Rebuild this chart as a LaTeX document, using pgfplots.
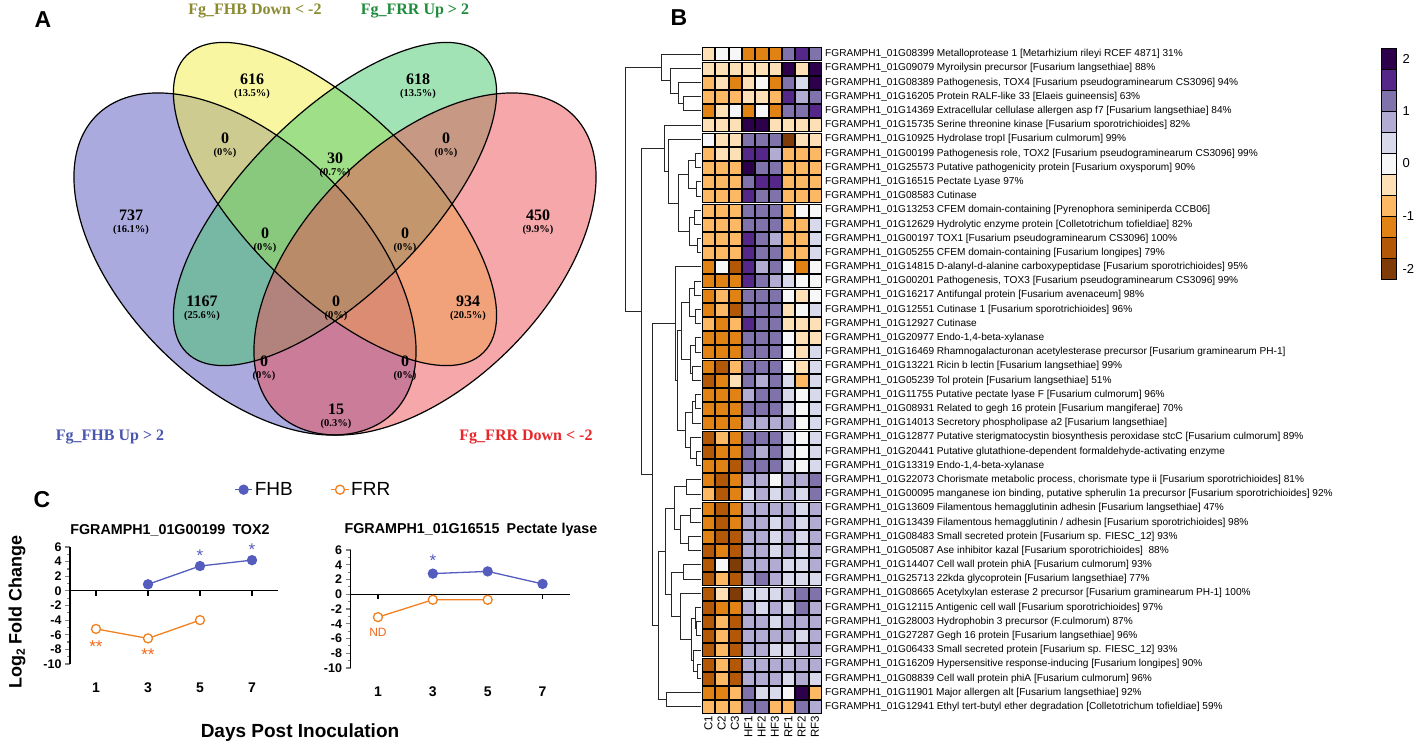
\documentclass[border=0pt]{standalone}
\usepackage{pgfplots}
\pgfplotsset{compat=1.18}
\usepackage{pgfplotstable}
\usepackage{fontspec}
\setmainfont{Liberation Sans}
\newfontfamily\vennfont{Liberation Serif}

\definecolor{vpur}{RGB}{85,85,190}
\definecolor{vyel}{RGB}{241,237,65}
\definecolor{vgrn}{RGB}{70,200,110}
\definecolor{vpnk}{RGB}{235,79,85}
\definecolor{fhb}{RGB}{84,92,190}
\definecolor{frr}{RGB}{240,128,32}
\definecolor{lblolive}{RGB}{138,138,48}
\definecolor{lblgreen}{RGB}{30,140,60}
\definecolor{lblblue}{RGB}{74,85,176}
\definecolor{lblred}{RGB}{232,38,42}

\pgfplotsset{colormap={puor}{rgb255=(127,59,8) rgb255=(179,88,6) rgb255=(224,130,20)
  rgb255=(253,184,99) rgb255=(254,224,182) rgb255=(247,247,247) rgb255=(216,218,235)
  rgb255=(178,171,210) rgb255=(128,115,172) rgb255=(84,39,136) rgb255=(45,0,75)}}
\tikzset{astk/.style={font=\fontsize{17}{17}\selectfont}}

% heat map codes: -5 (dark brown) ... 0 (white) ... 5 (dark purple)
\pgfplotstableread{
r c0 c1 c2 c3 c4 c5 c6 c7 c8
1 -1 0 0 -3 -3 -3 3 4 3
2 -1 -1 -1 -1 -1 -1 5 -1 5
3 -2 -1 -3 -1 0 -3 3 1 5
4 -2 -2 -2 -1 -1 -2 4 2 3
5 -3 -1 0 -3 0 -3 3 3 4
6 -1 -1 -1 5 5 -1 -1 -1 -1
7 0 -1 -1 3 3 3 -5 -1 -1
8 -2 -1 -1 4 4 2 -2 -2 -2
9 -2 -2 -2 5 3 3 -2 -2 -2
10 -2 -2 -2 3 4 4 -2 -2 -2
11 -2 -2 -2 4 3 3 -2 -2 -2
12 -2 -2 -2 3 3 3 -2 0 0
13 -2 -2 -2 3 3 3 -2 -2 1
14 -2 -2 -2 4 3 2 -2 -2 1
15 -2 -2 -2 4 3 3 -2 -2 1
16 -3 0 -4 4 2 3 0 -3 0
17 -3 -3 -3 4 3 2 1 0 0
18 -3 -2 -3 3 3 3 0 -1 0
19 -3 -2 -4 3 3 3 -1 0 1
20 -2 -3 -2 4 3 3 -1 -1 -1
21 -3 -3 -3 3 3 3 0 -1 -1
22 -3 -3 -3 3 3 3 0 -1 1
23 -3 -4 -2 3 3 3 0 -1 1
24 -4 -3 -1 3 2 3 1 -2 1
25 -3 -3 -3 2 3 3 1 0 1
26 -3 -3 -3 3 3 3 1 0 1
27 -3 -3 -3 2 2 2 2 0 1
28 -4 -2 -3 3 3 3 1 0 1
29 -4 -3 -3 3 2 3 1 0 1
30 -3 -3 -4 3 3 3 1 0 1
31 -3 -4 -3 2 2 0 2 2 3
32 -2 -4 -3 1 2 1 2 1 3
33 -3 -4 -3 2 2 2 2 1 2
34 -3 -4 -3 2 2 1 2 1 2
35 -3 -4 -4 2 2 1 2 1 2
36 -4 -3 -4 2 2 1 2 1 2
37 -4 0 -5 2 2 2 1 1 2
38 -4 -2 -4 2 3 2 1 1 1
39 -4 -1 -5 1 1 1 2 3 3
40 -4 -3 -3 2 1 2 1 3 2
41 -4 -2 -4 2 2 1 2 2 2
42 -4 -2 -4 2 2 2 2 1 2
43 -4 -2 -4 2 2 1 1 2 2
44 -4 -2 -4 2 2 2 2 2 2
45 -4 -2 -4 2 2 2 1 2 1
46 -3 -3 -2 3 1 1 0 5 -2
47 -2 -2 -2 3 3 -2 -2 3 2
}\heat

\newcommand{\vn}[4]{\node[align=center, font=\vennfont\bfseries, inner sep=0pt] at (axis cs:#1,#2)
  {{\fontsize{16}{17}\selectfont #3}\\{\fontsize{10.5}{11}\selectfont (#4\%)}};}
% dendrogram bracket: child (x1,y1), join at x, child (x2,y2)
\newcommand{\br}[5]{\addplot[black!85, line width=1pt] coordinates {(#1,#2) (#3,#2) (#3,#5) (#4,#5)};}
\newcommand{\collab}[2]{\node[rotate=90, anchor=east, inner sep=2pt, font=\fontsize{11.5}{12}\selectfont] at (axis cs:#1,47.5) {#2};}

\begin{document}
\begin{tikzpicture}

% ---------------- A: Venn ----------------
\begin{axis}[at={(0pt,0pt)}, anchor=north west, scale only axis,
  width=640pt, height=460pt, xmin=0, xmax=640, ymin=0, ymax=460,
  y dir=reverse, hide axis, clip=false]
  \fill[vpur, fill opacity=0.5, rotate around={-45:(axis cs:245,264)}] (axis cs:245,264) ellipse [x radius=210pt, y radius=120pt];
  \fill[vyel, fill opacity=0.5, rotate around={-45:(axis cs:335,204)}] (axis cs:335,204) ellipse [x radius=210pt, y radius=90pt];
  \fill[vgrn, fill opacity=0.5, rotate around={45:(axis cs:335,204)}] (axis cs:335,204) ellipse [x radius=210pt, y radius=90pt];
  \fill[vpnk, fill opacity=0.5, rotate around={45:(axis cs:425,264)}] (axis cs:425,264) ellipse [x radius=210pt, y radius=120pt];
  \draw[line width=1.2pt, rotate around={-45:(axis cs:245,264)}] (axis cs:245,264) ellipse [x radius=210pt, y radius=120pt];
  \draw[line width=1.2pt, rotate around={-45:(axis cs:335,204)}] (axis cs:335,204) ellipse [x radius=210pt, y radius=90pt];
  \draw[line width=1.2pt, rotate around={45:(axis cs:335,204)}] (axis cs:335,204) ellipse [x radius=210pt, y radius=90pt];
  \draw[line width=1.2pt, rotate around={45:(axis cs:425,264)}] (axis cs:425,264) ellipse [x radius=210pt, y radius=120pt];
  \vn{252}{86}{616}{13.5}
  \vn{418}{86}{618}{13.5}
  \vn{131}{222}{737}{16.1}
  \vn{538}{222}{450}{9.9}
  \vn{225}{145}{0}{0}
  \vn{335}{165}{30}{0.7}
  \vn{446}{145}{0}{0}
  \vn{265}{240}{0}{0}
  \vn{405}{240}{0}{0}
  \vn{202}{308}{1167}{25.6}
  \vn{336}{308}{0}{0}
  \vn{468}{308}{934}{20.5}
  \vn{264}{368}{0}{0}
  \vn{405}{368}{0}{0}
  \vn{336}{416}{15}{0.3}
  \node[lblolive, font=\vennfont\bfseries\fontsize{16}{16}\selectfont] at (axis cs:255,11) {Fg\_FHB Down < -2};
  \node[lblgreen, font=\vennfont\bfseries\fontsize{16}{16}\selectfont] at (axis cs:415,11) {Fg\_FRR Up > 2};
  \node[lblblue, font=\vennfont\bfseries\fontsize{16}{16}\selectfont] at (axis cs:110,437) {Fg\_FHB Up > 2};
  \node[lblred, font=\vennfont\bfseries\fontsize{16}{16}\selectfont] at (axis cs:526,437) {Fg\_FRR Down < -2};
\end{axis}

% ---------------- B: heat map ----------------
\begin{axis}[at={(623.7pt,-47pt)}, anchor=north west, scale only axis,
  width=198pt, height=667pt, xmin=-6.35, xmax=8.5, ymin=0.5, ymax=47.5, y dir=reverse,
  axis line style={draw=none}, xtick=\empty, ytick={1,...,47}, ytick style={draw=none},
  yticklabel pos=right, yticklabel style={font=\fontsize{10.1}{10.5}\selectfont},
  point meta min=-5, point meta max=5, clip=false,
  yticklabels={
  {FGRAMPH1\_01G08399 Metalloprotease 1 [Metarhizium rileyi RCEF 4871] 31\%},
  {FGRAMPH1\_01G09079 Myroilysin precursor [Fusarium langsethiae] 88\%},
  {FGRAMPH1\_01G08389 Pathogenesis, TOX4 [Fusarium pseudograminearum CS3096] 94\%},
  {FGRAMPH1\_01G16205 Protein RALF-like 33 [Elaeis guineensis] 63\%},
  {FGRAMPH1\_01G14369 Extracellular cellulase allergen asp f7 [Fusarium langsethiae] 84\%},
  {FGRAMPH1\_01G15735 Serine threonine kinase [Fusarium sporotrichioides] 82\%},
  {FGRAMPH1\_01G10925 Hydrolase tropI [Fusarium culmorum] 99\%},
  {FGRAMPH1\_01G00199 Pathogenesis role, TOX2 [Fusarium pseudograminearum CS3096] 99\%},
  {FGRAMPH1\_01G25573 Putative pathogenicity protein [Fusarium oxysporum] 90\%},
  {FGRAMPH1\_01G16515 Pectate Lyase 97\%},
  {FGRAMPH1\_01G08583 Cutinase},
  {FGRAMPH1\_01G13253 CFEM domain-containing [Pyrenophora seminiperda CCB06]},
  {FGRAMPH1\_01G12629 Hydrolytic enzyme protein [Colletotrichum tofieldiae] 82\%},
  {FGRAMPH1\_01G00197 TOX1 [Fusarium pseudograminearum CS3096] 100\%},
  {FGRAMPH1\_01G05255 CFEM domain-containing [Fusarium longipes] 79\%},
  {FGRAMPH1\_01G14815 D-alanyl-d-alanine carboxypeptidase [Fusarium sporotrichioides] 95\%},
  {FGRAMPH1\_01G00201 Pathogenesis, TOX3 [Fusarium pseudograminearum CS3096] 99\%},
  {FGRAMPH1\_01G16217 Antifungal protein [Fusarium avenaceum] 98\%},
  {FGRAMPH1\_01G12551 Cutinase 1 [Fusarium sporotrichioides] 96\%},
  {FGRAMPH1\_01G12927 Cutinase},
  {FGRAMPH1\_01G20977 Endo-1,4-beta-xylanase},
  {FGRAMPH1\_01G16469 Rhamnogalacturonan acetylesterase precursor [Fusarium graminearum PH-1]},
  {FGRAMPH1\_01G13221 Ricin b lectin [Fusarium langsethiae] 99\%},
  {FGRAMPH1\_01G05239 Tol protein [Fusarium langsethiae] 51\%},
  {FGRAMPH1\_01G11755 Putative pectate lyase F [Fusarium culmorum] 96\%},
  {FGRAMPH1\_01G08931 Related to gegh 16 protein [Fusarium mangiferae] 70\%},
  {FGRAMPH1\_01G14013 Secretory phospholipase a2 [Fusarium langsethiae]},
  {FGRAMPH1\_01G12877 Putative sterigmatocystin biosynthesis peroxidase stcC [Fusarium culmorum] 89\%},
  {FGRAMPH1\_01G20441 Putative glutathione-dependent formaldehyde-activating enzyme},
  {FGRAMPH1\_01G13319 Endo-1,4-beta-xylanase},
  {FGRAMPH1\_01G22073 Chorismate metabolic process, chorismate type ii [Fusarium sporotrichioides] 81\%},
  {FGRAMPH1\_01G00095 manganese ion binding, putative spherulin 1a precursor [Fusarium sporotrichioides] 92\%},
  {FGRAMPH1\_01G13609 Filamentous hemagglutinin adhesin [Fusarium langsethiae] 47\%},
  {FGRAMPH1\_01G13439 Filamentous hemagglutinin / adhesin [Fusarium sporotrichioides] 98\%},
  {FGRAMPH1\_01G08483 Small secreted protein [Fusarium sp. FIESC\_12] 93\%},
  {FGRAMPH1\_01G05087 Ase inhibitor kazal [Fusarium sporotrichioides] \ 88\%},
  {FGRAMPH1\_01G14407 Cell wall protein phiA [Fusarium culmorum] 93\%},
  {FGRAMPH1\_01G25713 22kda glycoprotein [Fusarium langsethiae] 77\%},
  {FGRAMPH1\_01G08665 Acetylxylan esterase 2 precursor [Fusarium graminearum PH-1] 100\%},
  {FGRAMPH1\_01G12115 Antigenic cell wall [Fusarium sporotrichioides] 97\%},
  {FGRAMPH1\_01G28003 Hydrophobin 3 precursor (F.culmorum) 87\%},
  {FGRAMPH1\_01G27287 Gegh 16 protein [Fusarium langsethiae] 96\%},
  {FGRAMPH1\_01G06433 Small secreted protein [Fusarium sp. FIESC\_12] 93\%},
  {FGRAMPH1\_01G16209 Hypersensitive response-inducing [Fusarium longipes] 90\%},
  {FGRAMPH1\_01G08839 Cell wall protein phiA [Fusarium culmorum] 96\%},
  {FGRAMPH1\_01G11901 Major allergen alt [Fusarium langsethiae] 92\%},
  {FGRAMPH1\_01G12941 Ethyl tert-butyl ether degradation [Colletotrichum tofieldiae] 59\%}
  }]
  \pgfplotsinvokeforeach{0,...,8}{
    \addplot[scatter, only marks, mark=square*, mark size=6.5pt,
      mark options={xscale=0.93, draw=none},
      scatter/use mapped color={fill=mapped color, draw=none},
      point meta=explicit] table[x expr=#1, y=r, meta=c#1] {\heat};
  }
  % dendrogram: cluster A (rows 1-5)
  \br{-0.55}{4}{-1.875}{-0.55}{5}
  \br{-0.55}{3}{-2.25}{-1.875}{4.5}
  \br{-0.55}{2}{-2.875}{-2.25}{3.75}
  \br{-0.55}{1}{-3.5}{-2.875}{2.875}
  % cluster B (rows 6-15)
  \br{-0.55}{8}{-0.95}{-0.55}{9}
  \br{-0.55}{10}{-0.875}{-0.55}{11}
  \br{-0.95}{8.5}{-1.5}{-0.875}{10.5}
  \br{-0.55}{12}{-1.075}{-0.55}{13}
  \br{-0.55}{14}{-0.825}{-0.55}{15}
  \br{-1.075}{12.5}{-1.45}{-0.825}{14.5}
  \br{-1.5}{9.5}{-2.25}{-1.45}{13.5}
  \br{-0.55}{7}{-3.0}{-2.25}{11.5}
  \br{-0.55}{6}{-3.3}{-3.0}{9.25}
  % cluster D1 (rows 16-30)
  \br{-0.55}{17}{-1.075}{-0.55}{18}
  \br{-0.55}{19}{-0.95}{-0.55}{20}
  \br{-1.075}{17.5}{-1.45}{-0.95}{19.5}
  \br{-0.55}{21}{-0.95}{-0.55}{22}
  \br{-0.55}{23}{-1.2}{-0.55}{24}
  \br{-0.95}{21.5}{-1.325}{-1.2}{23.5}
  \br{-1.45}{18.5}{-2.0}{-1.325}{22.5}
  \br{-0.55}{25}{-0.95}{-0.55}{26}
  \br{-0.95}{25.5}{-1.2}{-0.55}{27}
  \br{-0.55}{29}{-0.875}{-0.55}{30}
  \br{-0.55}{28}{-1.325}{-0.875}{29.5}
  \br{-1.2}{26.25}{-1.75}{-1.325}{28.75}
  \br{-2.0}{20.5}{-2.325}{-1.75}{27.5}
  \br{-0.55}{16}{-2.5}{-2.325}{24}
  % cluster D2 (rows 31-45)
  \br{-0.55}{31}{-1.625}{-0.55}{32}
  \br{-0.55}{33}{-1.375}{-0.55}{34}
  \br{-0.55}{35}{-1.5}{-0.55}{36}
  \br{-1.375}{33.5}{-2.125}{-1.5}{35.5}
  \br{-1.625}{31.5}{-2.55}{-2.125}{34.5}
  \br{-0.55}{37}{-1.875}{-0.55}{38}
  \br{-0.55}{41}{-0.875}{-0.55}{42}
  \br{-0.55}{40}{-1.0}{-0.875}{41.5}
  \br{-0.55}{44}{-0.825}{-0.55}{45}
  \br{-0.55}{43}{-1.125}{-0.825}{44.5}
  \br{-1.0}{40.75}{-1.25}{-1.125}{43.75}
  \br{-0.55}{39}{-2.125}{-1.25}{42.25}
  \br{-1.875}{37.5}{-2.75}{-2.125}{40.625}
  \br{-2.55}{33}{-3.2}{-2.75}{39.0625}
  % rows 46-47 and upper joins
  \br{-0.55}{46}{-3.125}{-0.55}{47}
  \br{-3.2}{36.03}{-3.75}{-3.125}{46.5}
  \br{-2.5}{20}{-4.2}{-3.75}{41.27}
  \br{-3.3}{7.625}{-5.0}{-4.2}{30.63}
  \br{-3.5}{1.9375}{-6.25}{-5.0}{19.13}
  % column labels
  \collab{0}{C1}\collab{1}{C2}\collab{2}{C3}
  \collab{3}{HF1}\collab{4}{HF2}\collab{5}{HF3}
  \collab{6}{RF1}\collab{7}{RF2}\collab{8}{RF3}
\end{axis}

% ---------------- colour key ----------------
\begin{axis}[at={(1381pt,-48pt)}, anchor=north west, scale only axis,
  width=15pt, height=231pt, xmin=0, xmax=1, ymin=-5.5, ymax=5.5,
  axis line style={draw=none}, xtick=\empty,
  ytick={-5,-2.5,0,2.5,5}, yticklabels={-2,-1,0,1,2}, yticklabel pos=right,
  ytick style={draw=none}, yticklabel style={font=\fontsize{13}{13}\selectfont, xshift=3pt},
  point meta min=-5, point meta max=5, clip=false]
  \addplot[scatter, only marks, mark=square*, mark size=10.5pt,
    mark options={xscale=0.714, draw=none},
    scatter/use mapped color={fill=mapped color, draw=none},
    point meta=explicit] table[meta=v] {
x y v
0.5 -5 -5
0.5 -4 -4
0.5 -3 -3
0.5 -2 -2
0.5 -1 -1
0.5 0 0
0.5 1 1
0.5 2 2
0.5 3 3
0.5 4 4
0.5 5 5
};
\end{axis}

% ---------------- C: time courses ----------------
\pgfplotsset{tc/.style={scale only axis, xmin=0, xmax=8, ymin=-10, ymax=6,
  axis y line*=left, axis x line*=bottom, x axis line style={draw=none},
  y axis line style={line width=1.2pt},
  xtick={1,3,5,7}, xtick style={draw=none},
  ytick={-10,-8,...,6}, minor ytick={-9,-7,...,5},
  ytick style={line width=1.2pt}, minor tick style={line width=1.2pt},
  tick align=outside, major tick length=5pt, minor tick length=3pt,
  /pgf/number format/assume math mode=true,
  yticklabel style={font=\bfseries\fontsize{12.5}{13}\selectfont},
  xticklabel style={font=\bfseries\fontsize{14}{14}\selectfont, yshift=-10pt},
  clip=false},
  fhbline/.style={fhb, line width=1.3pt, mark=*, mark size=4.5pt},
  frrline/.style={frr, line width=1.3pt, mark=*, mark size=4.5pt, mark options={fill=white, line width=1.3pt}}}

\begin{axis}[tc, at={(70pt,-547pt)}, anchor=north west, width=208pt, height=117pt,
  legend columns=2,
  legend style={at={(axis description cs:1.17,1.49)}, anchor=center, draw=none,
    font=\fontsize{19}{19}\selectfont, /tikz/every even column/.append style={column sep=36pt}}]
  \draw[line width=1.2pt] (axis cs:0,0) -- (axis cs:8,0);
  \draw[line width=1.2pt] (axis cs:1,0) -- (axis cs:1,-0.7) (axis cs:3,0) -- (axis cs:3,-0.7)
    (axis cs:5,0) -- (axis cs:5,-0.7) (axis cs:7,0) -- (axis cs:7,-0.7);
  \addplot[fhbline] coordinates {(3,0.9) (5,3.4) (7,4.2)};
  \addplot[frrline] coordinates {(1,-5.2) (3,-6.5) (5,-4.0)};
  \legend{FHB, FRR}
  \node[fhb, astk] at (axis cs:5,4.8) {*};
  \node[fhb, astk] at (axis cs:7,5.7) {*};
  \node[frr!80!red, astk] at (axis cs:1,-7.6) {**};
  \node[frr!80!red, astk] at (axis cs:3,-8.7) {**};
\end{axis}

\begin{axis}[tc, at={(350.5pt,-550pt)}, anchor=north west, width=219.5pt, height=118pt]
  \draw[line width=1.2pt] (axis cs:0,0) -- (axis cs:8,0);
  \draw[line width=1.2pt] (axis cs:1,0) -- (axis cs:1,-0.7) (axis cs:3,0) -- (axis cs:3,-0.7)
    (axis cs:5,0) -- (axis cs:5,-0.7) (axis cs:7,0) -- (axis cs:7,-0.7);
  \addplot[fhbline] coordinates {(3,2.8) (5,3.1) (7,1.4)};
  \addplot[frrline] coordinates {(1,-3.1) (3,-0.75) (5,-0.75)};
  \node[fhb, astk] at (axis cs:3,4.5) {*};
  \node[frr!80!red, font=\fontsize{12}{12}\selectfont] at (axis cs:1,-5.2) {ND};
\end{axis}

% titles and panel letters
\node[font=\bfseries\fontsize{14.3}{15}\selectfont] at (170pt,-530pt) {FGRAMPH1\_01G00199\enspace TOX2};
\node[font=\bfseries\fontsize{14.3}{15}\selectfont] at (471pt,-530pt) {FGRAMPH1\_01G16515\enspace Pectate lyase};
\node[rotate=90, font=\bfseries\fontsize{18}{18}\selectfont] at (17pt,-612pt) {Log\raisebox{-0.35ex}{\fontsize{12}{12}\selectfont 2} Fold Change};
\node[font=\bfseries\fontsize{19}{19}\selectfont] at (300pt,-733pt) {Days Post Inoculation};
\node[font=\bfseries\fontsize{23}{23}\selectfont] at (43pt,-20pt) {A};
\node[font=\bfseries\fontsize{23}{23}\selectfont] at (679pt,-18pt) {B};
\node[font=\bfseries\fontsize{23}{23}\selectfont] at (42pt,-500pt) {C};

\pgfresetboundingbox
\path[use as bounding box] (0pt,0pt) rectangle (1417pt,-746pt);
\end{tikzpicture}
\end{document}
